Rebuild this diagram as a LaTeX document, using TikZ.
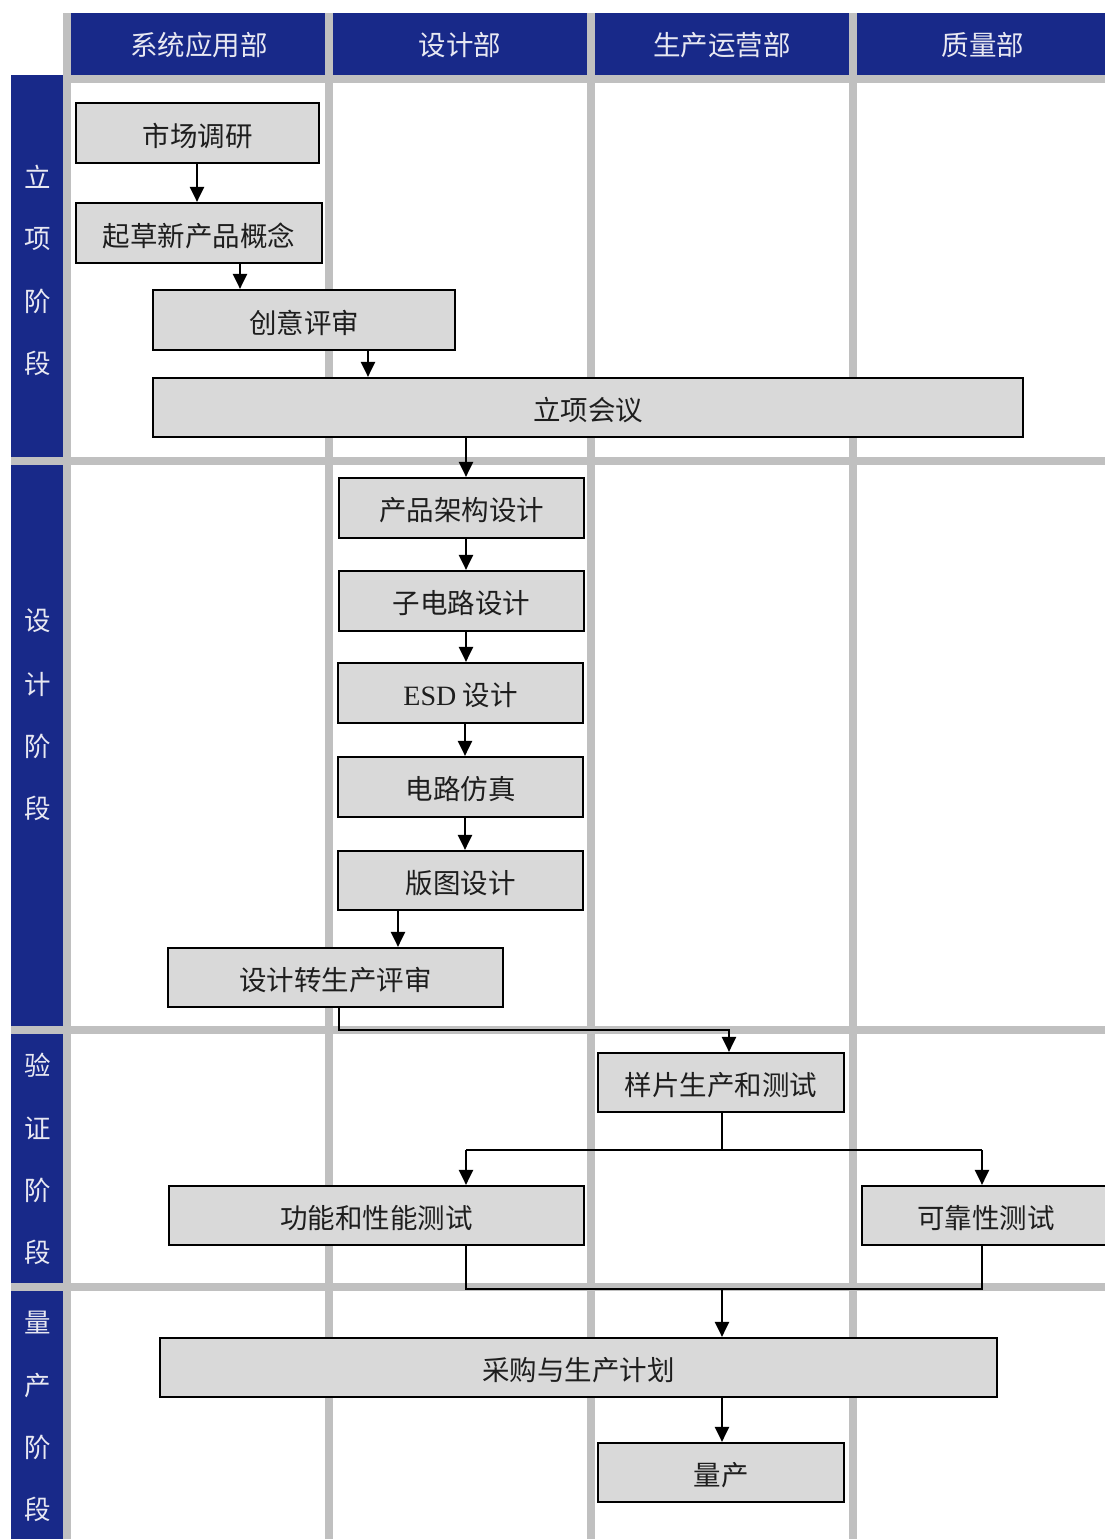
\documentclass[tikz,border=0pt]{standalone}
\usepackage{fontspec}
\setmainfont{Liberation Serif}
\newfontfamily\cjk{Noto Sans CJK SC}
\usetikzlibrary{arrows.meta}
\definecolor{hdrblue}{RGB}{24,41,137}
\definecolor{gridgray}{RGB}{192,192,192}
\definecolor{boxgray}{RGB}{217,217,217}
\definecolor{hdrtext}{RGB}{232,232,242}
\definecolor{boxtext}{RGB}{30,30,30}
\newcommand{\bxt}[1]{\raisebox{-2.5pt}[\height][\depth]{#1}}
\begin{document}
\begin{tikzpicture}[x=1pt,y=-1pt,
  box/.style={draw=black, line width=2.2pt, fill=boxgray, inner sep=0pt, text=boxtext,
    font=\cjk\fontsize{27.5}{32}\selectfont},
  hdr/.style={text=hdrtext, font=\cjk\fontsize{27.5}{32}\selectfont, inner sep=0pt},
  side/.style={text=hdrtext, font=\cjk\fontsize{26.5}{30}\selectfont, inner sep=0pt},
  arr/.style={line width=2.2pt, -{Triangle[width=14pt,length=15pt]}},
  ln/.style={line width=2.2pt}]
\useasboundingbox (0,0) rectangle (1105,1539);
% grid background
\fill[white] (0,0) rectangle (1105,1539);
\fill[gridgray] (63,13) rectangle (1105,1539);
\fill[gridgray] (11,75) rectangle (63,1539);
% header cells
\foreach \a/\b in {71/325,333/587,595/849,857/1105}{
  \fill[hdrblue] (\a,13) rectangle (\b,75);
  \foreach \c/\d in {83/457,465/1026,1034/1283,1291/1539}{
    \fill[white] (\a,\c) rectangle (\b,\d);
  }
}
\foreach \c/\d in {75/457,465/1026,1034/1283,1291/1539}{
  \fill[hdrblue] (11,\c) rectangle (63,\d);
}
% header texts
\node[hdr] (h1) at (199,45) {系统应用部};
\node[hdr] (h2) at (460,45) {设计部};
\node[hdr] (h3) at (722,45) {生产运营部};
\node[hdr] (h4) at (983,45) {质量部};
% side texts
\node[side] (s11) at (38,177) {立};
\node[side] (s12) at (38,239) {项};
\node[side] (s13) at (38,301) {阶};
\node[side] (s14) at (38,363) {段};
\node[side] (s21) at (38,621) {设};
\node[side] (s22) at (38,684) {计};
\node[side] (s23) at (38,746) {阶};
\node[side] (s24) at (38,808) {段};
\node[side] (s31) at (38,1065) {验};
\node[side] (s32) at (38,1128) {证};
\node[side] (s33) at (38,1190) {阶};
\node[side] (s34) at (38,1252) {段};
\node[side] (s41) at (38,1323) {量};
\node[side] (s42) at (38,1385) {产};
\node[side] (s43) at (38,1447) {阶};
\node[side] (s44) at (38,1509) {段};
% boxes
\node[box, minimum width=243pt, minimum height=60pt] (n1) at (197.5,133) {\bxt{市场调研}};
\node[box, minimum width=246pt, minimum height=60pt] (n2) at (199,233) {\bxt{起草新产品概念}};
\node[box, minimum width=302pt, minimum height=60pt] (n3) at (304,320) {\bxt{创意评审}};
\node[box, minimum width=870pt, minimum height=59pt] (n4) at (588,407.5) {\bxt{立项会议}};
\node[box, minimum width=245pt, minimum height=60pt] (n5) at (461.5,508) {\bxt{产品架构设计}};
\node[box, minimum width=245pt, minimum height=60pt] (n6) at (461.5,601) {\bxt{子电路设计}};
\node[box, minimum width=245pt, minimum height=60pt] (n7) at (460.5,693) {\bxt{{\rmfamily\fontsize{28}{32}\selectfont ESD} 设计}};
\node[box, minimum width=245pt, minimum height=60pt] (n8) at (460.5,787) {\bxt{电路仿真}};
\node[box, minimum width=245pt, minimum height=59pt] (n9) at (460.5,880.5) {\bxt{版图设计}};
\node[box, minimum width=335pt, minimum height=59pt] (n10) at (335.5,977.5) {\bxt{设计转生产评审}};
\node[box, minimum width=246pt, minimum height=59pt] (n11) at (721,1082.5) {\bxt{样片生产和测试}};
\node[box, minimum width=415pt, minimum height=59pt] (n12) at (376.5,1215.5) {\bxt{功能和性能测试}};
\node[box, minimum width=248pt, minimum height=59pt] (n13) at (986,1215.5) {\bxt{可靠性测试}};
\node[box, minimum width=837pt, minimum height=59pt] (n14) at (578.5,1367.5) {\bxt{采购与生产计划}};
\node[box, minimum width=246pt, minimum height=59pt] (n15) at (721,1472.5) {\bxt{量产}};
% helper coordinates
\coordinate (x197) at (197,0);
\coordinate (x240) at (240,0);
\coordinate (x368) at (368,0);
\coordinate (x466) at (466,0);
\coordinate (x465) at (465,0);
\coordinate (x398) at (398,0);
\coordinate (x982) at (982,0);
\coordinate (x722) at (722,0);
\coordinate (x729) at (729,0);
\coordinate (b1) at (339,1030);
\coordinate (b2) at (729,1030);
\coordinate (sp) at (722,1150);
\coordinate (spl) at (466,1150);
\coordinate (spr) at (982,1150);
\coordinate (ml) at (466,1289);
\coordinate (mr) at (982,1289);
\coordinate (mm) at (722,1289);
% arrows
\draw[arr] (n1.south -| x197) -- (n2.north -| x197);
\draw[arr] (n2.south -| x240) -- (n3.north -| x240);
\draw[arr] (n3.south -| x368) -- (n4.north -| x368);
\draw[arr] (n4.south -| x466) -- (n5.north -| x466);
\draw[arr] (n5.south -| x466) -- (n6.north -| x466);
\draw[arr] (n6.south -| x466) -- (n7.north -| x466);
\draw[arr] (n7.south -| x465) -- (n8.north -| x465);
\draw[arr] (n8.south -| x465) -- (n9.north -| x465);
\draw[arr] (n9.south -| x398) -- (n10.north -| x398);
\draw[arr] (n10.south -| b1) -- (b1) -- (b2) -- (n11.north -| b2);
\draw[ln] (n11.south -| sp) -- (sp);
\draw[ln] (spl) -- (spr);
\draw[arr] (spl) -- (n12.north -| spl);
\draw[arr] (spr) -- (n13.north -| spr);
\draw[ln] (n12.south -| ml) -- (ml) -- (mr) -- (n13.south -| mr);
\draw[arr] (mm) -- (n14.north -| mm);
\draw[arr] (n14.south -| x722) -- (n15.north -| x722);
\end{tikzpicture}
\end{document}
